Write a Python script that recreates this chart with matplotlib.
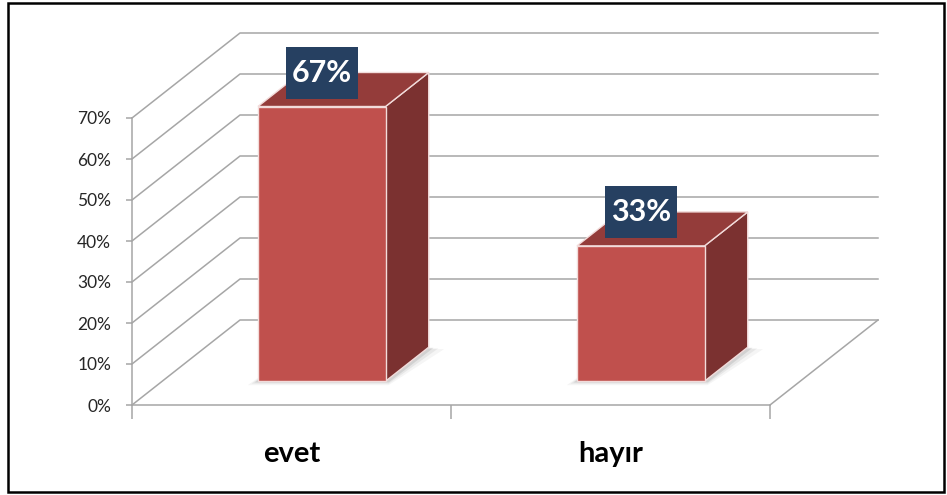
import matplotlib.pyplot as plt
from matplotlib.patches import Polygon, Rectangle
from matplotlib.ticker import FuncFormatter

# veriler
categories = ['evet', 'hayır']
values = [67, 33]
labels = ['67%', '33%']
y_ticks = [0, 10, 20, 30, 40, 50, 60, 70]

plt.rcParams['font.family'] = ['Lato', 'DejaVu Sans']

fig = plt.figure(figsize=(9.47, 4.95), dpi=100)
# on duzlem (front plane) eksenleri
ax = fig.add_axes([132 / 947, 90 / 495, 638 / 947, 287 / 495])
ax.set_xlim(-0.5, len(categories) - 0.5)
ax.set_ylim(0, 70)

# derinlik ofseti (veri biriminde)
DX = 108 / 319
DY = 85 / 4.1
grid_c = '#A6A6A6'

# arka duvar + yan duvar izgara cizgileri
x0, x1 = -0.5, len(categories) - 0.5
for v in y_ticks:
    ax.plot([x0, x0 + DX, x1 + DX], [v, v + DY, v + DY], color=grid_c, lw=1.1,
            clip_on=False, zorder=1)
# zemin sag kenar
ax.plot([x1, x1 + DX], [0, DY], color=grid_c, lw=1.1, clip_on=False, zorder=1)

# 3B cubuklar
d0, d1 = 0.28, 0.68
w = 0.4
for i, v in enumerate(values):
    xl, xr = i - w / 2, i + w / 2
    ox0, oy0 = d0 * DX, d0 * DY
    ox1, oy1 = d1 * DX, d1 * DY
    # golge
    for k, a in [(1.6, 0.05), (1.0, 0.08), (0.5, 0.12)]:
        sh = [(xl + ox0 - 0.02 * k, oy0 - 0.6 * k), (xr + ox0 + 0.01, oy0 - 0.6 * k),
              (xr + ox1 + 0.03 * k, oy1 - 0.3 * k), (xl + ox1, oy1)]
        ax.add_patch(Polygon(sh, closed=True, facecolor='#404040', alpha=a,
                             edgecolor='none', clip_on=False, zorder=2))
    front = [(xl + ox0, oy0), (xr + ox0, oy0), (xr + ox0, v + oy0), (xl + ox0, v + oy0)]
    side = [(xr + ox0, oy0), (xr + ox1, oy1), (xr + ox1, v + oy1), (xr + ox0, v + oy0)]
    top = [(xl + ox0, v + oy0), (xr + ox0, v + oy0), (xr + ox1, v + oy1), (xl + ox1, v + oy1)]
    for pts, fc in [(side, '#7B3130'), (top, '#943C3A'), (front, '#C0504D')]:
        ax.add_patch(Polygon(pts, closed=True, facecolor=fc, edgecolor='#F2DCDB',
                             lw=1.0, clip_on=False, zorder=3))
    # deger etiketi
    lx, ly = i + ox0, v + oy1
    bw, bh = 72 / 319, 52 / 4.1
    ax.add_patch(Rectangle((lx - bw / 2, ly - bh / 2), bw, bh, facecolor='#264061',
                           edgecolor='none', clip_on=False, zorder=4))
    ax.text(lx, ly, labels[i], color='white', fontsize=22, fontweight='bold',
            ha='center', va='center', zorder=5)

# eksenler
for s in ['top', 'right']:
    ax.spines[s].set_visible(False)
for s in ['left', 'bottom']:
    ax.spines[s].set_color(grid_c)
    ax.spines[s].set_linewidth(1.1)
    ax.spines[s].set_zorder(1)

ax.set_yticks(y_ticks)
ax.yaxis.set_major_formatter(FuncFormatter(lambda v, p: f'{v:.0f}%'))
ax.tick_params(axis='y', length=4, width=1.1, color=grid_c, pad=11,
               labelsize=12.5, labelcolor='#262626')

ax.set_xticks(range(len(categories)))
ax.set_xticklabels(categories, fontsize=21, fontweight='bold')
ax.set_xticks([-0.5, 0.5, 1.5], minor=True)
ax.tick_params(axis='x', which='major', length=0, pad=26, labelcolor='black')
ax.tick_params(axis='x', which='minor', length=10, width=1.1, color=grid_c)

ax.set_facecolor('none')

# dis cerceve
fig.patches.append(Rectangle((8 / 947, 3 / 495), 936 / 947, 489 / 495,
                             transform=fig.transFigure, fill=False,
                             edgecolor='black', lw=1.8))

plt.savefig('out.png', dpi=100)
